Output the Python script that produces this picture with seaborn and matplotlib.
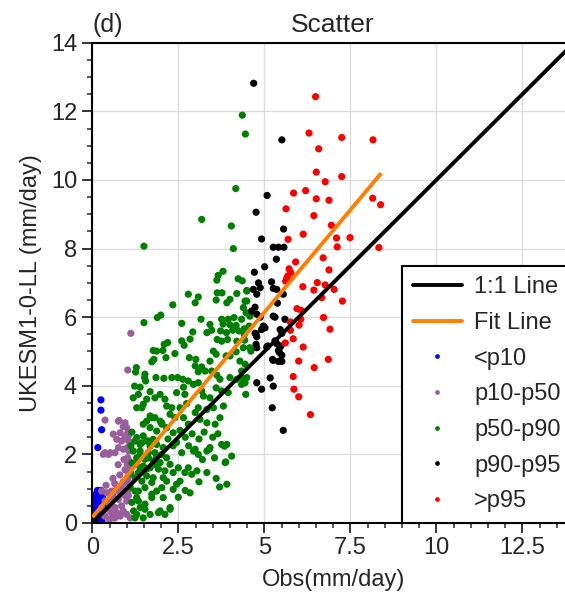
import matplotlib.pyplot as plt
import numpy as np
import pandas as pd
import seaborn as sns
from matplotlib.lines import Line2D
from matplotlib.ticker import MultipleLocator

# ---------------------------------------------------------------------------
# Datos (Obs vs UKESM1-0-LL, mm/day)
# ---------------------------------------------------------------------------
groups = ['<p10', 'p10-p50', 'p50-p90', 'p90-p95', '>p95']
colors = ['#0000ff', '#9a5e9c', '#008000', '#000000', '#ff0000']

p10_obs = [0.25, 0.25, 0.27, 0.16, 0.05, 0.10, 0.15, 0.20, 0.25, 0.05, 0.10, 0.20,
           0.30, 0.15, 0.25, 0.30, 0.05, 0.12, 0.22, 0.30, 0.08, 0.35, 0.02, 0.18,
           0.28, 0.10, 0.20, 0.03, 0.15, 0.25]
p10_mod = [3.59, 3.29, 2.72, 2.20, 0.10, 0.20, 0.30, 0.45, 0.60, 0.50, 0.70, 0.85,
           0.90, 0.05, 0.15, 0.30, 0.35, 0.55, 0.70, 0.75, 0.82, 0.50, 0.25, 0.15,
           0.05, 0.40, 0.30, 0.65, 0.95, 0.95]

p50_obs = [1.12, 1.03, 0.37, 0.78, 0.76, 0.95, 1.00, 0.32, 0.47, 0.66, 0.76, 0.85,
           0.71, 0.61, 0.81, 0.37, 0.52, 0.90, 0.95, 0.90, 1.05,
           1.02, 1.05, 1.02, 1.06, 1.03, 1.07, 1.02, 1.05, 1.03, 1.07, 1.02, 1.05,
           1.03, 1.06, 1.02, 1.05,
           0.27, 0.42, 0.56, 0.71, 0.85, 0.37, 0.56, 0.76, 0.27, 0.47, 0.66, 0.85,
           0.37, 0.61, 0.81, 1.00, 1.00, 1.10, 0.71, 0.66, 0.50, 0.30, 0.45, 0.60,
           0.80, 0.90, 0.95, 0.55, 0.40, 0.65, 0.90, 0.80, 0.95, 0.75, 0.92, 0.60]
p50_mod = [5.53, 4.46, 3.00, 2.99, 2.97, 2.92, 2.78, 2.00, 2.00, 2.05, 2.20, 2.39,
           2.44, 2.59, 2.63, 2.05, 2.05, 2.15, 2.50, 2.81, 2.54,
           2.60, 2.40, 2.20, 2.10, 1.90, 1.80, 1.71, 1.60, 1.52, 1.40, 1.32, 1.20,
           1.13, 1.00, 0.93, 0.80,
           0.93, 0.88, 0.93, 0.98, 1.03, 0.64, 0.64, 0.69, 0.45, 0.40, 0.45, 0.50,
           0.20, 0.15, 0.20, 0.25, 0.64, 0.15, 0.30, 0.15, 0.10, 0.25, 0.60, 0.80,
           0.85, 0.35, 0.80, 0.30, 1.10, 1.15, 1.20, 1.40, 1.55, 1.70, 1.85, 1.30]

p90_obs = [4.36, 4.45, 4.17, 3.18, 4.04, 1.50, 4.10, 3.80, 3.66, 3.62, 4.24, 4.36,
           4.49, 2.79, 3.08, 2.99, 3.63, 3.77, 4.20, 4.00, 3.60, 3.91, 4.49, 2.34,
           1.99, 1.89, 1.50, 2.60, 3.16, 3.42, 3.47, 3.76, 3.95, 4.12, 4.47, 3.80,
           4.00, 4.18, 3.73, 3.90, 4.08, 4.26, 4.42, 4.42, 2.92, 3.33, 3.63, 3.76,
           3.93, 4.20, 4.43, 2.60, 2.67, 2.84, 2.19, 1.77, 2.05, 2.40, 2.14, 1.79,
           1.73, 2.82, 3.01, 3.52, 3.60, 3.42, 3.89, 4.00, 4.18, 4.58, 4.29, 4.44,
           2.99, 3.18, 3.08, 3.28, 3.47, 3.62, 3.71, 4.00, 4.20, 4.34, 4.44, 1.52,
           1.85, 2.08, 2.31, 2.48, 2.63, 2.79, 2.94, 3.08, 1.23, 1.39, 2.65, 2.45,
           2.69, 3.18, 3.23, 3.42, 3.60, 3.76, 3.95, 4.46, 1.48, 1.44, 2.16, 2.31,
           2.55, 2.74, 2.99, 3.08, 3.33, 3.52, 3.81, 1.68, 1.58, 2.02, 2.26, 2.40,
           2.65, 2.79, 3.13, 3.33, 3.71, 3.57,
           1.29, 1.48, 1.58, 1.77, 1.39, 1.68, 1.87, 2.06, 1.19, 1.39, 1.63, 1.82,
           2.02, 2.16, 1.29, 1.53, 1.77, 1.97, 2.26, 1.48, 1.68, 1.92, 2.11, 1.34,
           1.58, 1.77, 2.06, 2.35, 2.50, 2.94, 3.08, 3.33, 3.42, 3.76, 3.86, 3.33,
           2.79, 2.69, 2.89, 3.04, 2.55, 2.45, 2.35, 2.84, 3.91, 2.16, 2.02, 1.87,
           2.06, 2.26, 1.97, 1.68, 1.48, 1.73, 1.53, 1.39, 1.24, 1.29, 3.88, 3.84,
           3.91, 3.40, 2.99, 1.29, 1.92, 2.11, 2.26, 1.24, 1.53, 1.34,
           2.09, 1.87, 1.28, 1.26, 1.53, 1.55, 1.68, 1.73, 1.48, 2.02,
           1.24, 1.44, 1.63, 1.82, 1.39, 1.63, 1.87, 1.24, 1.39, 1.58, 1.82, 1.24,
           1.44, 1.73, 1.34, 1.53, 1.73,
           1.19, 1.34, 1.58, 1.82, 1.97, 2.11, 1.29, 1.82, 1.97, 2.16, 2.35, 1.68,
           1.87, 4.49, 4.44, 4.39, 4.58, 4.34, 4.56, 4.39, 4.61, 4.49, 4.34, 4.34,
           2.55, 2.70, 2.90, 3.10, 3.25, 3.50, 3.65, 2.45, 2.60, 2.80, 3.20, 3.55,
           3.60, 3.10, 2.70, 2.50, 3.70, 4.05, 2.35, 2.20, 1.15, 1.12, 1.15, 1.12,
           1.10, 1.15, 1.20]
p90_mod = [11.89, 11.34, 9.75, 8.85, 8.66, 8.07, 8.00, 7.34, 7.22, 7.08, 7.12, 7.06,
           6.78, 6.67, 6.59, 6.42, 6.71, 6.71, 6.69, 6.52, 6.50, 6.42, 6.47, 6.36,
           6.06, 5.99, 5.84, 5.82, 5.94, 5.79, 5.62, 5.94, 5.94, 5.99, 6.13, 5.80,
           5.78, 5.76, 5.60, 5.55, 5.62, 5.60, 5.66, 5.50, 5.57, 5.55, 5.35, 5.30,
           5.35, 5.30, 5.33, 5.31, 5.18, 5.36, 5.26, 5.03, 5.03, 4.94, 4.82, 4.77,
           4.70, 4.82, 4.77, 5.01, 4.92, 4.72, 4.87, 4.87, 4.99, 5.11, 4.72, 4.63,
           4.58, 4.55, 4.41, 4.43, 4.43, 4.31, 4.19, 4.24, 4.19, 4.24, 4.09, 4.24,
           4.24, 4.22, 4.24, 4.24, 4.19, 4.14, 4.04, 4.09, 3.99, 3.96, 3.96, 3.80,
           3.75, 3.85, 3.70, 3.65, 3.94, 3.85, 3.80, 3.75, 3.46, 3.36, 3.41, 3.36,
           3.36, 3.48, 3.22, 3.36, 3.31, 3.36, 3.41, 3.12, 2.97, 2.88, 3.17, 3.07,
           3.07, 2.88, 3.02, 2.92, 3.07, 2.88,
           2.49, 2.54, 2.39, 2.44, 2.29, 2.24, 2.29, 2.20, 2.10, 2.10, 2.05, 2.05,
           2.00, 1.90, 1.90, 1.86, 1.81, 1.76, 1.71, 1.66, 1.61, 1.57, 1.52, 1.47,
           1.37, 1.32, 1.32, 1.47, 1.61, 2.10, 2.00, 2.10, 2.20, 2.29, 1.76, 1.47,
           1.61, 1.47, 1.42, 1.52, 1.22, 1.13, 0.98, 0.88, 1.13, 1.22, 1.03, 0.93,
           0.74, 0.45, 0.35, 0.25, 0.15, 0.74, 0.55, 0.45, 0.93, 0.74, 1.78, 2.24,
           2.29, 2.15, 2.15, 0.25, 0.30, 0.25, 0.40, 0.15, 0.40, 0.64,
           5.21, 5.01, 4.53, 4.40, 4.34, 4.14, 3.83, 3.07, 2.88, 2.92,
           2.39, 2.34, 2.39, 2.39, 2.00, 1.90, 1.95, 1.71, 1.61, 1.57, 1.71, 1.32,
           1.22, 1.18, 0.93, 1.03, 0.84,
           3.65, 3.75, 3.61, 3.65, 3.75, 3.61, 3.36, 3.07, 2.97, 2.78, 2.63, 2.78,
           2.68, 6.76, 6.47, 6.28, 6.03, 5.94, 5.74, 5.11, 5.01, 4.24, 4.04, 4.43,
           2.70, 2.50, 2.60, 2.45, 2.65, 2.50, 2.60, 2.35, 2.05, 2.25, 1.85, 1.90,
           1.30, 1.20, 0.95, 0.75, 1.05, 1.95, 2.25, 2.45, 1.75, 2.25, 2.65, 1.45,
           1.05, 0.60, 0.35]

p95_obs = [4.69, 5.51, 5.08, 4.76, 5.56, 4.92, 5.26, 5.41, 5.57, 5.35, 5.01, 4.71,
           4.83, 4.88, 4.68, 4.78, 5.21, 5.26, 5.36, 5.55, 5.38, 4.73, 4.78, 4.88,
           4.63, 5.26, 5.31, 5.60, 4.97, 4.92, 5.02, 4.73, 4.78, 5.46, 5.51, 5.07,
           5.36, 5.46, 5.41, 5.51, 5.26, 5.41, 5.51, 4.76, 4.78, 5.17, 5.26, 4.78,
           4.92, 5.23, 5.55, 5.31, 5.10, 5.48, 4.76, 5.44, 5.24]
p95_mod = [12.82, 11.17, 9.55, 9.06, 8.57, 8.28, 8.04, 8.04, 8.04, 7.69, 7.47, 7.31,
           7.00, 6.86, 6.81, 6.67, 7.03, 6.84, 6.81, 6.67, 6.41, 6.29, 6.09, 6.00,
           6.18, 6.03, 6.00, 5.94, 5.74, 5.64, 5.69, 5.53, 5.43, 5.64, 5.53, 5.13,
           5.23, 5.13, 5.03, 4.89, 4.74, 4.71, 4.71, 5.21, 5.11, 4.23, 3.99, 4.09,
           3.90, 3.36, 2.70, 5.31, 5.16, 5.16, 5.52, 4.97, 4.77]

pmax_obs = [6.49, 6.30, 7.25, 8.16, 6.58, 6.51, 7.25, 6.77, 5.85, 6.20, 6.51, 6.88,
            8.15, 8.38, 5.63, 6.44, 6.95, 6.13, 5.69, 7.10, 7.49, 7.12, 8.33, 5.91,
            6.71, 5.72, 5.77, 6.88, 5.65, 5.62, 5.68, 6.12, 6.54, 6.44, 6.77, 7.03,
            6.67, 7.27, 5.95, 6.07, 5.76, 6.01, 6.06, 6.72, 6.91, 5.76, 5.84, 5.61,
            6.13, 6.00, 6.45, 6.86, 5.84, 5.86, 6.00, 6.34]
pmax_mod = [12.43, 11.37, 11.24, 11.17, 10.91, 10.23, 10.10, 9.95, 9.62, 9.69, 9.45, 9.41,
            9.47, 9.28, 9.16, 8.96, 8.68, 8.42, 8.27, 8.31, 8.32, 8.05, 8.03, 7.61,
            7.73, 7.41, 7.30, 7.38, 7.13, 7.05, 7.20, 6.89, 7.01, 6.79, 6.94, 6.81,
            6.57, 6.47, 6.25, 6.20, 5.86, 5.77, 5.94, 5.99, 5.65, 5.62, 5.37, 5.25,
            5.13, 4.72, 4.53, 4.77, 4.27, 3.90, 3.68, 3.16]

# Líneas de referencia (extremos)
one_x = [0, 14]
one_y = [0, 14]
fit_x = [0.0, 8.4]
fit_y = [0.17, 10.2]

xticks = [0, 2.5, 5, 7.5, 10, 12.5]
xticklabels = ['0', '2.5', '5', '7.5', '10', '12.5']
yticks = [0, 2, 4, 6, 8, 10, 12, 14]

# ---------------------------------------------------------------------------
series = [(p10_obs, p10_mod), (p50_obs, p50_mod), (p90_obs, p90_mod),
          (p95_obs, p95_mod), (pmax_obs, pmax_mod)]
df = pd.concat([pd.DataFrame({'obs': o, 'model': m, 'group': g})
                for (o, m), g in zip(series, groups)], ignore_index=True)
palette = dict(zip(groups, colors))

sns.set_style('white')
plt.rcParams['font.family'] = ['Liberation Sans', 'DejaVu Sans']

fig = plt.figure(figsize=(5.65, 5.96), dpi=100)
ax = fig.add_axes([0.1634, 0.1225, 0.8524, 0.8057])

sns.scatterplot(data=df, x='obs', y='model', hue='group', hue_order=groups,
                palette=palette, s=27, linewidth=0, legend=False, ax=ax, zorder=2)
ax.plot(one_x, one_y, color='black', lw=2.8, zorder=3, solid_capstyle='butt')
ax.plot(fit_x, fit_y, color='#ff7f00', lw=2.8, zorder=3, solid_capstyle='butt')

ax.set_xlim(0, 14)
ax.set_ylim(0, 14)
ax.set_xticks(xticks)
ax.set_xticklabels(xticklabels)
ax.set_yticks(yticks)
ax.xaxis.set_minor_locator(MultipleLocator(0.5))
ax.yaxis.set_minor_locator(MultipleLocator(0.5))
ax.tick_params(which='major', direction='out', length=7, width=1.3,
               labelsize=17, bottom=True, left=True)
ax.tick_params(which='minor', direction='out', length=3.5, width=1.1,
               bottom=True, left=True)
ax.tick_params(axis='y', pad=4)
ax.tick_params(axis='x', pad=3)
ax.grid(True, which='major', color='#dcdcdc', lw=1.0, zorder=0)
ax.set_axisbelow(True)
for sp in ax.spines.values():
    sp.set_color('black')
    sp.set_linewidth(1.5)

ax.set_xlabel('Obs(mm/day)', fontsize=17, labelpad=7)
ax.set_ylabel('UKESM1-0-LL (mm/day)', fontsize=17, labelpad=6)
ax.set_title('Scatter', fontsize=19, pad=8)
ax.set_title('(d)', loc='left', fontsize=18, pad=8)

handles = [Line2D([], [], color='black', lw=2.8),
           Line2D([], [], color='#ff7f00', lw=2.8)]
handles += [Line2D([], [], marker='o', ls='', color=c, markersize=3.4,
                   markeredgewidth=0) for c in colors]
labels = ['1:1 Line', 'Fit Line'] + groups
leg = ax.legend(handles, labels, loc='lower left', bbox_to_anchor=(0.643, 0.0),
                borderaxespad=0, fontsize=17, frameon=True, fancybox=False,
                framealpha=1, edgecolor='black', labelspacing=0.58,
                handlelength=2.1, handletextpad=0.5, borderpad=0.45)
leg.get_frame().set_linewidth(1.5)
leg.set_zorder(5)

fig.savefig('out.png', dpi=100, facecolor='white')
